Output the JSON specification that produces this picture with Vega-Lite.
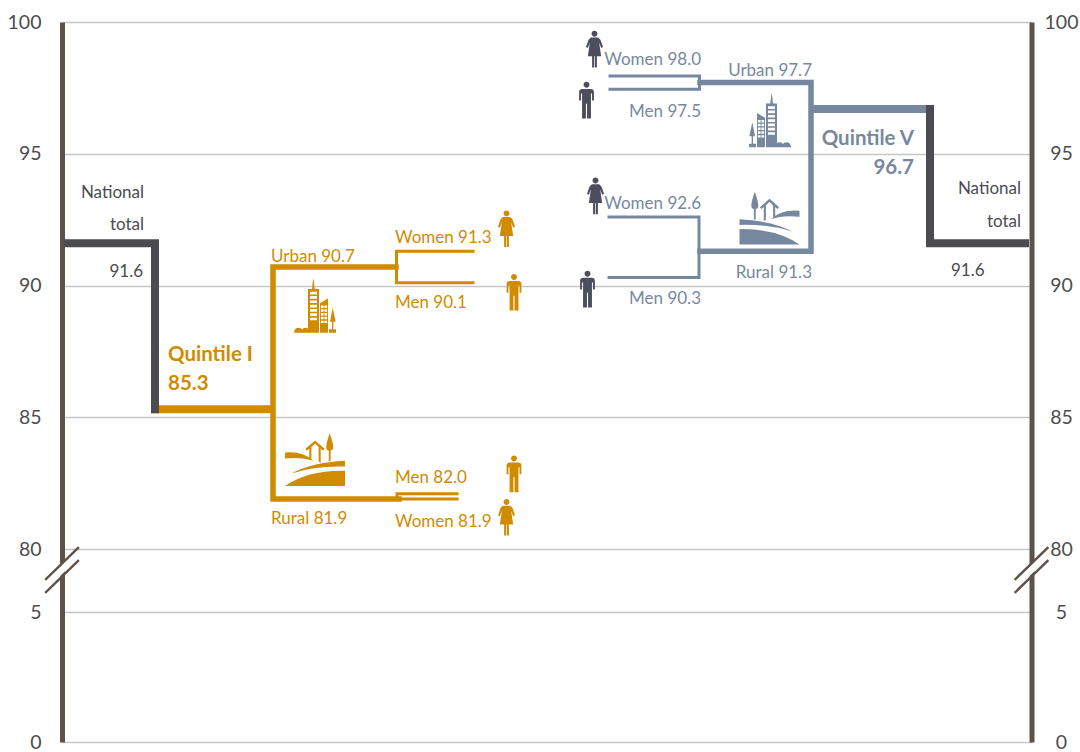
{
"$schema":"https://vega.github.io/schema/vega-lite/v6.json",
"width":969.5,"height":752,
"autosize":{"type":"none"},
"padding":{"left":62,"top":0,"right":48.5,"bottom":0},
"background":"white",
"config":{"view":{"stroke":null},"text":{"font":"Lato"},"axis":{"labelFont":"Lato"}},
"datasets":{
"paths":[
{"path":"q1","series":"Quintile I","level":"quintile","seq":1,"pos":93,"value":85.3},
{"path":"q1","series":"Quintile I","level":"quintile","seq":2,"pos":208,"value":85.3},
{"path":"q1area","series":"Quintile I","level":"area","seq":1,"pos":334,"value":90.7},
{"path":"q1area","series":"Quintile I","level":"area","seq":2,"pos":211,"value":90.7},
{"path":"q1area","series":"Quintile I","level":"area","seq":3,"pos":211,"value":81.9},
{"path":"q1area","series":"Quintile I","level":"area","seq":4,"pos":337,"value":81.9},
{"path":"q1urban","series":"Quintile I","level":"sex","seq":1,"pos":411,"value":91.3},
{"path":"q1urban","series":"Quintile I","level":"sex","seq":2,"pos":334.5,"value":91.3},
{"path":"q1urban","series":"Quintile I","level":"sex","seq":3,"pos":334.5,"value":90.1},
{"path":"q1urban","series":"Quintile I","level":"sex","seq":4,"pos":411,"value":90.1},
{"path":"q1rural","series":"Quintile I","level":"sex","seq":1,"pos":395,"value":82.1},
{"path":"q1rural","series":"Quintile I","level":"sex","seq":2,"pos":335,"value":82.1},
{"path":"q1rural","series":"Quintile I","level":"sex","seq":3,"pos":335,"value":81.9},
{"path":"q1rural","series":"Quintile I","level":"sex","seq":4,"pos":395,"value":81.9},
{"path":"q5","series":"Quintile V","level":"quintile","seq":1,"pos":753,"value":96.7},
{"path":"q5","series":"Quintile V","level":"quintile","seq":2,"pos":868,"value":96.7},
{"path":"q5area","series":"Quintile V","level":"area","seq":1,"pos":638,"value":97.7},
{"path":"q5area","series":"Quintile V","level":"area","seq":2,"pos":749,"value":97.7},
{"path":"q5area","series":"Quintile V","level":"area","seq":3,"pos":749,"value":91.3},
{"path":"q5area","series":"Quintile V","level":"area","seq":4,"pos":638,"value":91.3},
{"path":"q5urban","series":"Quintile V","level":"sex","seq":1,"pos":548,"value":97.95},
{"path":"q5urban","series":"Quintile V","level":"sex","seq":2,"pos":637.5,"value":97.95},
{"path":"q5urban","series":"Quintile V","level":"sex","seq":3,"pos":637.5,"value":97.45},
{"path":"q5urban","series":"Quintile V","level":"sex","seq":4,"pos":548,"value":97.45},
{"path":"q5rural","series":"Quintile V","level":"sex","seq":1,"pos":547,"value":92.6},
{"path":"q5rural","series":"Quintile V","level":"sex","seq":2,"pos":637,"value":92.6},
{"path":"q5rural","series":"Quintile V","level":"sex","seq":3,"pos":637,"value":90.3},
{"path":"q5rural","series":"Quintile V","level":"sex","seq":4,"pos":547,"value":90.3},
{"path":"natl","series":"National","level":"quintile","seq":1,"pos":6,"value":91.6},
{"path":"natl","series":"National","level":"quintile","seq":2,"pos":93,"value":91.6},
{"path":"natl","series":"National","level":"quintile","seq":3,"pos":93,"value":85.3},
{"path":"natr","series":"National","level":"quintile","seq":1,"pos":868,"value":96.7},
{"path":"natr","series":"National","level":"quintile","seq":2,"pos":868,"value":91.6},
{"path":"natr","series":"National","level":"quintile","seq":3,"pos":963,"value":91.6},
{"path":"g1","series":"Mask","level":"gap","seq":1,"pos":-6,"value":49},
{"path":"g1","series":"Mask","level":"gap","seq":2,"pos":6,"value":62.7},
{"path":"g2","series":"Mask","level":"gap","seq":1,"pos":963.5,"value":49},
{"path":"g2","series":"Mask","level":"gap","seq":2,"pos":975.5,"value":62.7},
{"path":"b1","series":"Spine","level":"break","seq":1,"pos":-16,"value":44.3},
{"path":"b1","series":"Spine","level":"break","seq":2,"pos":16,"value":80.04},
{"path":"b2","series":"Spine","level":"break","seq":1,"pos":-16,"value":28.8},
{"path":"b2","series":"Spine","level":"break","seq":2,"pos":16,"value":65.7},
{"path":"b3","series":"Spine","level":"break","seq":1,"pos":953.5,"value":44.3},
{"path":"b3","series":"Spine","level":"break","seq":2,"pos":985.5,"value":80.04},
{"path":"b4","series":"Spine","level":"break","seq":1,"pos":953.5,"value":28.8},
{"path":"b4","series":"Spine","level":"break","seq":2,"pos":985.5,"value":65.7}
],
"labels":[
{"label":"National","series":"National","anchor":"right","weight":"normal","pos":82,"at":93.32},
{"label":"total","series":"National","anchor":"right","weight":"normal","pos":82,"at":92.11},
{"label":"91.6","series":"National","anchor":"right","weight":"normal","pos":81,"at":90.32},
{"label":"Quintile I","series":"Quintile I","anchor":"left","weight":"bold","pos":106,"at":87.13},
{"label":"85.3","series":"Quintile I","anchor":"left","weight":"bold","pos":106,"at":86.03},
{"label":"Urban 90.7","series":"Quintile I","anchor":"left","weight":"normal","pos":209,"at":90.89},
{"label":"Women 91.3","series":"Quintile I","anchor":"left","weight":"normal","pos":333,"at":91.61},
{"label":"Men 90.1","series":"Quintile I","anchor":"left","weight":"normal","pos":333,"at":89.15},
{"label":"Men 82.0","series":"Quintile I","anchor":"left","weight":"normal","pos":333,"at":82.5},
{"label":"Rural 81.9","series":"Quintile I","anchor":"left","weight":"normal","pos":209,"at":80.95},
{"label":"Women 81.9","series":"Quintile I","anchor":"left","weight":"normal","pos":333,"at":80.83},
{"label":"Women 98.0","series":"Quintile V","anchor":"right","weight":"normal","pos":639,"at":98.37},
{"label":"Urban 97.7","series":"Quintile V","anchor":"right","weight":"normal","pos":750,"at":97.95},
{"label":"Men 97.5","series":"Quintile V","anchor":"right","weight":"normal","pos":639,"at":96.39},
{"label":"Quintile V","series":"Quintile V","anchor":"right","weight":"bold","pos":852,"at":95.33},
{"label":"96.7","series":"Quintile V","anchor":"right","weight":"bold","pos":852,"at":94.23},
{"label":"National","series":"National","anchor":"right","weight":"normal","pos":959,"at":93.47},
{"label":"total","series":"National","anchor":"right","weight":"normal","pos":959,"at":92.22},
{"label":"91.6","series":"National","anchor":"left","weight":"normal","pos":889,"at":90.36},
{"label":"Women 92.6","series":"Quintile V","anchor":"right","weight":"normal","pos":639,"at":92.9},
{"label":"Rural 91.3","series":"Quintile V","anchor":"right","weight":"normal","pos":750,"at":90.28},
{"label":"Men 90.3","series":"Quintile V","anchor":"right","weight":"normal","pos":639,"at":89.3}
],
"icons":[
{"icon":"woman","kind":"person","series":"Quintile I","pos":444.5,"value":92.16},
{"icon":"man","kind":"person","series":"Quintile I","pos":452,"value":89.75},
{"icon":"man","kind":"person","series":"Quintile I","pos":452,"value":82.86},
{"icon":"woman","kind":"person","series":"Quintile I","pos":444.5,"value":81.21},
{"icon":"woman","kind":"person","series":"Person V","pos":532.5,"value":98.98},
{"icon":"man","kind":"person","series":"Person V","pos":524.5,"value":97.04},
{"icon":"woman","kind":"person","series":"Person V","pos":533.5,"value":93.41},
{"icon":"man","kind":"person","series":"Person V","pos":525.5,"value":89.87},
{"icon":"cityA","kind":"city","series":"Quintile I","pos":253.5,"value":89.22},
{"icon":"cityB","kind":"city","series":"Quintile V","pos":707.5,"value":96.26},
{"icon":"ruralA","kind":"rural","series":"Quintile I","pos":253,"value":83.39},
{"icon":"ruralB","kind":"rural","series":"Quintile V","pos":707.5,"value":92.56}
]
},
"resolve":{"axis":{"y":"independent"},"scale":{"shape":"independent"}},
"layer":[
{"data":{"name":"paths"},
"mark":{"type":"line","strokeCap":"square","strokeJoin":"miter","clip":false},
"encoding":{
"x":{"field":"pos","type":"quantitative","axis":null,"scale":{"domain":[0,969.5],"nice":false,"zero":false}},
"y":{"field":"value","type":"quantitative","scale":{"domain":[0,5,80,100],"range":[742,612,549,22],"nice":false,"zero":false},
"axis":{"orient":"left","title":null,"values":[0,5,80,85,90,95,100],"grid":true,"gridColor":"#c6c6c8","gridWidth":1.3,"ticks":false,"tickSize":0,"labelPadding":21,"labelFontSize":19.5,"labelColor":"#4d4d4f","labelFlush":false,"labelOverlap":false,"domain":true,"domainColor":"#5f5249","domainWidth":5,"zindex":0}},
"detail":{"field":"path"},
"order":{"field":"seq"},
"color":{"field":"series","type":"nominal","legend":null,"scale":{"domain":["Mask","National","Quintile I","Quintile V","Person V","Spine"],"range":["#ffffff","#4b4b50","#d18b00","#7688a0","#4c4e5e","#5f5249"]}},
"size":{"field":"level","type":"nominal","legend":null,"scale":{"type":"ordinal","domain":["quintile","area","sex","break","gap"],"range":[8,5.5,3,2.4,7]}}
}},
{"data":{"name":"paths"},"transform":[{"filter":"datum.path=='q1'"}],
"mark":{"type":"line","opacity":0},
"encoding":{
"x":{"field":"pos","type":"quantitative","axis":null},
"y":{"field":"value","type":"quantitative",
"axis":{"orient":"right","title":null,"values":[0,5,80,85,90,95,100],"grid":false,"ticks":false,"tickSize":0,"labelPadding":29.5,"labelAlign":"center","labelFontSize":19.5,"labelColor":"#4d4d4f","labelFlush":false,"labelOverlap":false,"domain":true,"domainColor":"#5f5249","domainWidth":5,"zindex":0}}
}},
{"data":{"name":"labels"},"transform":[{"filter":"datum.anchor=='left' && datum.weight=='normal'"}],
"mark":{"type":"text","align":"left","baseline":"alphabetic","fontSize":17},
"encoding":{"x":{"field":"pos","type":"quantitative","axis":null},"y":{"field":"at","type":"quantitative","axis":null},"text":{"field":"label"},"color":{"field":"series","type":"nominal","legend":null}}},
{"data":{"name":"labels"},"transform":[{"filter":"datum.anchor=='right' && datum.weight=='normal'"}],
"mark":{"type":"text","align":"right","baseline":"alphabetic","fontSize":17},
"encoding":{"x":{"field":"pos","type":"quantitative","axis":null},"y":{"field":"at","type":"quantitative","axis":null},"text":{"field":"label"},"color":{"field":"series","type":"nominal","legend":null}}},
{"data":{"name":"labels"},"transform":[{"filter":"datum.anchor=='left' && datum.weight=='bold'"}],
"mark":{"type":"text","align":"left","baseline":"alphabetic","fontSize":20.5,"fontWeight":"bold"},
"encoding":{"x":{"field":"pos","type":"quantitative","axis":null},"y":{"field":"at","type":"quantitative","axis":null},"text":{"field":"label"},"color":{"field":"series","type":"nominal","legend":null}}},
{"data":{"name":"labels"},"transform":[{"filter":"datum.anchor=='right' && datum.weight=='bold'"}],
"mark":{"type":"text","align":"right","baseline":"alphabetic","fontSize":20.5,"fontWeight":"bold"},
"encoding":{"x":{"field":"pos","type":"quantitative","axis":null},"y":{"field":"at","type":"quantitative","axis":null},"text":{"field":"label"},"color":{"field":"series","type":"nominal","legend":null}}},
{"data":{"name":"icons"},"transform":[{"filter":"datum.kind=='person'"}],
"mark":{"type":"point","filled":true,"opacity":1,"strokeWidth":0,"size":1369},
"encoding":{"x":{"field":"pos","type":"quantitative","axis":null},"y":{"field":"value","type":"quantitative","axis":null},"color":{"field":"series","type":"nominal","legend":null},
"shape":{"field":"icon","type":"nominal","legend":null,"scale":{"domain":["woman","man"],"range":[
"M-0.16,-0.82a0.16,0.16 0 1,0 0.32,0a0.16,0.16 0 1,0 -0.32,0ZM-0.2,-0.62L0.2,-0.62L0.32,-0.5L0.46,-0.1L0.36,-0.05L0.25,-0.35L0.36,0.4L0.13,0.4L0.13,1L0.02,1L0.02,0.4L-0.02,0.4L-0.02,1L-0.13,1L-0.13,0.4L-0.36,0.4L-0.25,-0.35L-0.36,-0.05L-0.46,-0.1L-0.32,-0.5Z",
"M-0.16,-0.82a0.16,0.16 0 1,0 0.32,0a0.16,0.16 0 1,0 -0.32,0ZM-0.22,-0.6L0.22,-0.6Q0.4,-0.6 0.4,-0.42L0.4,0.03L0.3,0.03L0.3,-0.35L0.24,-0.35L0.24,1L0.03,1L0.03,0.2L-0.03,0.2L-0.03,1L-0.24,1L-0.24,-0.35L-0.3,-0.35L-0.3,0.03L-0.4,0.03L-0.4,-0.42Q-0.4,-0.6 -0.22,-0.6Z"
]}}}},
{"data":{"name":"icons"},"transform":[{"filter":"datum.kind=='city'"}],
"mark":{"type":"point","filled":true,"opacity":1,"strokeWidth":0,"size":2916},
"encoding":{"x":{"field":"pos","type":"quantitative","axis":null},"y":{"field":"value","type":"quantitative","axis":null},"color":{"field":"series","type":"nominal","legend":null},
"shape":{"field":"icon","type":"nominal","legend":null,"scale":{"domain":["cityA","cityB"],"range":[
"M-0.13,-0.63L-0.09,-0.99L-0.07,-0.99L-0.03,-0.63ZM-0.278,-0.63H0.13V0.99H-0.278ZM-0.204,-0.53V-0.43H0.056V-0.53ZM-0.204,-0.37V-0.27H0.056V-0.37ZM-0.204,-0.21V-0.11H0.056V-0.21ZM-0.204,-0.05V0.05H0.056V-0.05ZM-0.204,0.11V0.21H0.056V0.11ZM-0.204,0.27V0.37H0.056V0.27ZM-0.204,0.43V0.53H0.056V0.43ZM0.167,-0.1L0.463,-0.284V0.99H0.167ZM0.2,-0.02V0.07H0.3V-0.02ZM0.33,-0.02V0.07H0.43V-0.02ZM0.2,0.12V0.21H0.3V0.12ZM0.33,0.12V0.21H0.43V0.12ZM0.2,0.26V0.35H0.3V0.26ZM0.33,0.26V0.35H0.43V0.26ZM0.2,0.4V0.49H0.3V0.4ZM0.33,0.4V0.49H0.43V0.4ZM0.2,0.54V0.63H0.3V0.54ZM0.33,0.54V0.63H0.43V0.54ZM0.636,0.06L0.747,0.58H0.66V0.86H0.76V0.99H0.5V0.86H0.61V0.58H0.537ZM-0.8,0.99Q-0.78,0.8 -0.62,0.8Q-0.52,0.8 -0.5,0.87Q-0.46,0.8 -0.37,0.8Q-0.24,0.8 -0.22,0.99Z",
"M0.13,-0.63L0.09,-0.99L0.07,-0.99L0.03,-0.63ZM0.278,-0.63H-0.13V0.99H0.278ZM0.204,-0.53V-0.43H-0.056V-0.53ZM0.204,-0.37V-0.27H-0.056V-0.37ZM0.204,-0.21V-0.11H-0.056V-0.21ZM0.204,-0.05V0.05H-0.056V-0.05ZM0.204,0.11V0.21H-0.056V0.11ZM0.204,0.27V0.37H-0.056V0.27ZM0.204,0.43V0.53H-0.056V0.43ZM-0.167,-0.1L-0.463,-0.284V0.99H-0.167ZM-0.2,-0.02V0.07H-0.3V-0.02ZM-0.33,-0.02V0.07H-0.43V-0.02ZM-0.2,0.12V0.21H-0.3V0.12ZM-0.33,0.12V0.21H-0.43V0.12ZM-0.2,0.26V0.35H-0.3V0.26ZM-0.33,0.26V0.35H-0.43V0.26ZM-0.2,0.4V0.49H-0.3V0.4ZM-0.33,0.4V0.49H-0.43V0.4ZM-0.2,0.54V0.63H-0.3V0.54ZM-0.33,0.54V0.63H-0.43V0.54ZM-0.636,0.06L-0.747,0.58H-0.66V0.86H-0.76V0.99H-0.5V0.86H-0.61V0.58H-0.537ZM0.8,0.99Q0.78,0.8 0.62,0.8Q0.52,0.8 0.5,0.87Q0.46,0.8 0.37,0.8Q0.24,0.8 0.22,0.99Z"
]}}}},
{"data":{"name":"icons"},"transform":[{"filter":"datum.kind=='rural'"}],
"mark":{"type":"point","filled":true,"opacity":1,"strokeWidth":0,"size":3600},
"encoding":{"x":{"field":"pos","type":"quantitative","axis":null},"y":{"field":"value","type":"quantitative","axis":null},"color":{"field":"series","type":"nominal","legend":null},
"shape":{"field":"icon","type":"nominal","legend":null,"scale":{"domain":["ruralA","ruralB"],"range":[
"M-1,-0.24Q-0.4,-0.3 -0.05,0.04Q-0.45,-0.1 -1,-0.04ZM-0.78,0.46Q-0.11,0.1 1,0.04V0.23Q0,0.2 -0.78,0.46ZM-1,0.88Q-0.22,0.34 1,0.37V0.88ZM0,-0.64L0.32,-0.36L0.27,-0.3L0.19,-0.37L0.19,0.1L0.12,0.06L0.12,-0.42L0,-0.54L-0.12,-0.42L-0.12,0L-0.19,-0.03L-0.19,-0.37L-0.27,-0.3L-0.32,-0.36ZM0.49,-0.88Q0.63,-0.5 0.6,-0.36Q0.58,-0.3 0.52,-0.3V0.05H0.46V-0.3Q0.4,-0.3 0.38,-0.36Q0.35,-0.5 0.49,-0.88Z",
"M1,-0.24Q0.4,-0.3 0.05,0.04Q0.45,-0.1 1,-0.04ZM0.78,0.46Q0.11,0.1 -1,0.04V0.23Q0,0.2 0.78,0.46ZM1,0.88Q0.22,0.34 -1,0.37V0.88ZM0,-0.64L-0.32,-0.36L-0.27,-0.3L-0.19,-0.37L-0.19,0.1L-0.12,0.06L-0.12,-0.42L0,-0.54L0.12,-0.42L0.12,0L0.19,-0.03L0.19,-0.37L0.27,-0.3L0.32,-0.36ZM-0.49,-0.88Q-0.63,-0.5 -0.6,-0.36Q-0.58,-0.3 -0.52,-0.3V0.05H-0.46V-0.3Q-0.4,-0.3 -0.38,-0.36Q-0.35,-0.5 -0.49,-0.88Z"
]}}}}
]
}
